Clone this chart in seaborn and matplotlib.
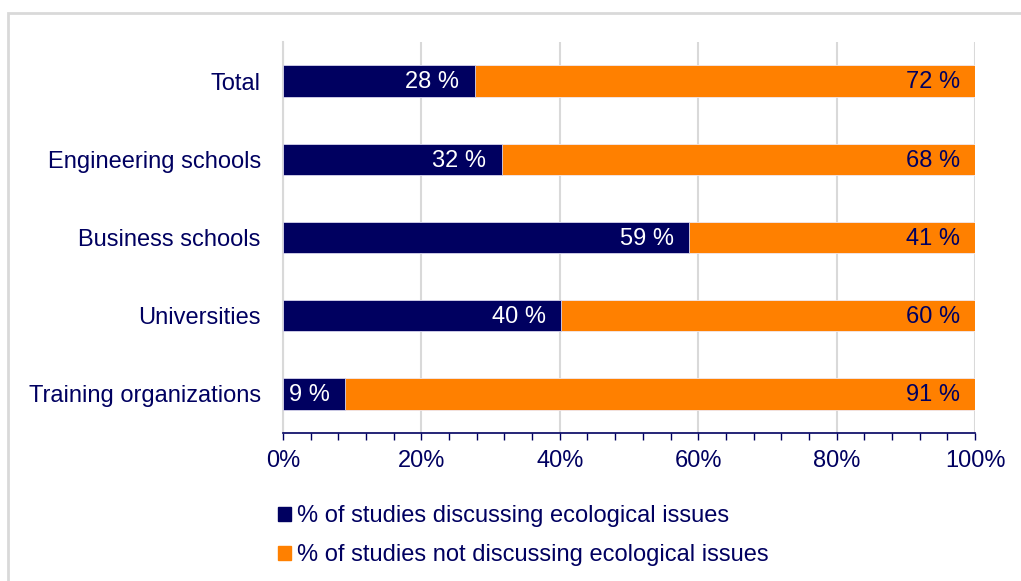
import matplotlib
matplotlib.use("Agg")
import matplotlib.pyplot as plt
import seaborn as sns
import pandas as pd
from matplotlib.patches import Patch, Rectangle
from matplotlib.ticker import MultipleLocator, PercentFormatter

categories = ["Total", "Engineering schools", "Business schools", "Universities", "Training organizations"]
discussing = [27.7, 31.6, 58.7, 40.2, 9.0]
not_discussing = [100 - v for v in discussing]
legend_labels = ["% of studies discussing ecological issues",
                 "% of studies not discussing ecological issues"]

NAVY = "#000060"
ORANGE = "#ff8000"
GRID = "#d9d9d9"

sns.set_theme(style="white")
plt.rcParams['font.family'] = ['Liberation Sans', 'DejaVu Sans']

df = pd.DataFrame({"cat": categories, "disc": discussing,
                   "total": [d + n for d, n in zip(discussing, not_discussing)]})

fig = plt.figure(figsize=(10.21, 5.81), dpi=100)
ax = fig.add_axes([283/1021, 1 - 433/581, (975 - 283)/1021, (433 - 42)/581])

sns.barplot(data=df, x="total", y="cat", orient="h", color=ORANGE, width=0.4,
            edgecolor="#f0e8f0", linewidth=0.6, saturation=1, ax=ax, zorder=3)
sns.barplot(data=df, x="disc", y="cat", orient="h", color=NAVY, width=0.4,
            edgecolor="#d8d8f0", linewidth=0.6, saturation=1, ax=ax, zorder=4)

for i, (d, n) in enumerate(zip(discussing, not_discussing)):
    ax.annotate(f"{round(d)} %", xy=(d, i), xytext=(-11, -1), textcoords="offset points",
                ha="right", va="center", color="white", fontsize=17, zorder=5)
    ax.annotate(f"{round(n)} %", xy=(d + n, i), xytext=(-11, -1), textcoords="offset points",
                ha="right", va="center", color=NAVY, fontsize=17, zorder=5)

ax.set_xlim(0, 100)
ax.set_ylim(4.5, -0.5)
ax.set_xlabel("")
ax.set_ylabel("")
ax.xaxis.set_major_locator(MultipleLocator(20))
ax.xaxis.set_minor_locator(MultipleLocator(4))
ax.xaxis.set_major_formatter(PercentFormatter(decimals=0))
ax.grid(axis="x", which="major", color=GRID, linewidth=1.5, zorder=0)
ax.grid(axis="y", visible=False)
ax.set_axisbelow(True)

for s in ["top", "right"]:
    ax.spines[s].set_visible(False)
ax.spines["left"].set_color(GRID)
ax.spines["left"].set_linewidth(1.5)
ax.spines["bottom"].set_color(NAVY)
ax.spines["bottom"].set_linewidth(1.2)

ax.tick_params(axis="x", which="both", direction="out", length=5, width=1, color=NAVY,
               bottom=True, labelsize=17, labelcolor=NAVY, pad=7)
ax.tick_params(axis="y", length=0, labelsize=17, labelcolor=NAVY, pad=16)

handles = [Patch(facecolor=NAVY, edgecolor=NAVY), Patch(facecolor=ORANGE, edgecolor=ORANGE)]
fig.legend(handles, legend_labels, loc="upper left", bbox_to_anchor=(269/1021, 1 - 496/581),
           frameon=False, fontsize=17, labelcolor=NAVY, handlelength=0.55, handleheight=0.55,
           handletextpad=0.25, labelspacing=0.72, borderaxespad=0)

fig.patches.append(Rectangle((8/1021, -0.1), 2, 1 - 13/581 + 0.1, transform=fig.transFigure,
                             fill=False, edgecolor=GRID, linewidth=2, zorder=0))

fig.savefig("out.png", dpi=100)
